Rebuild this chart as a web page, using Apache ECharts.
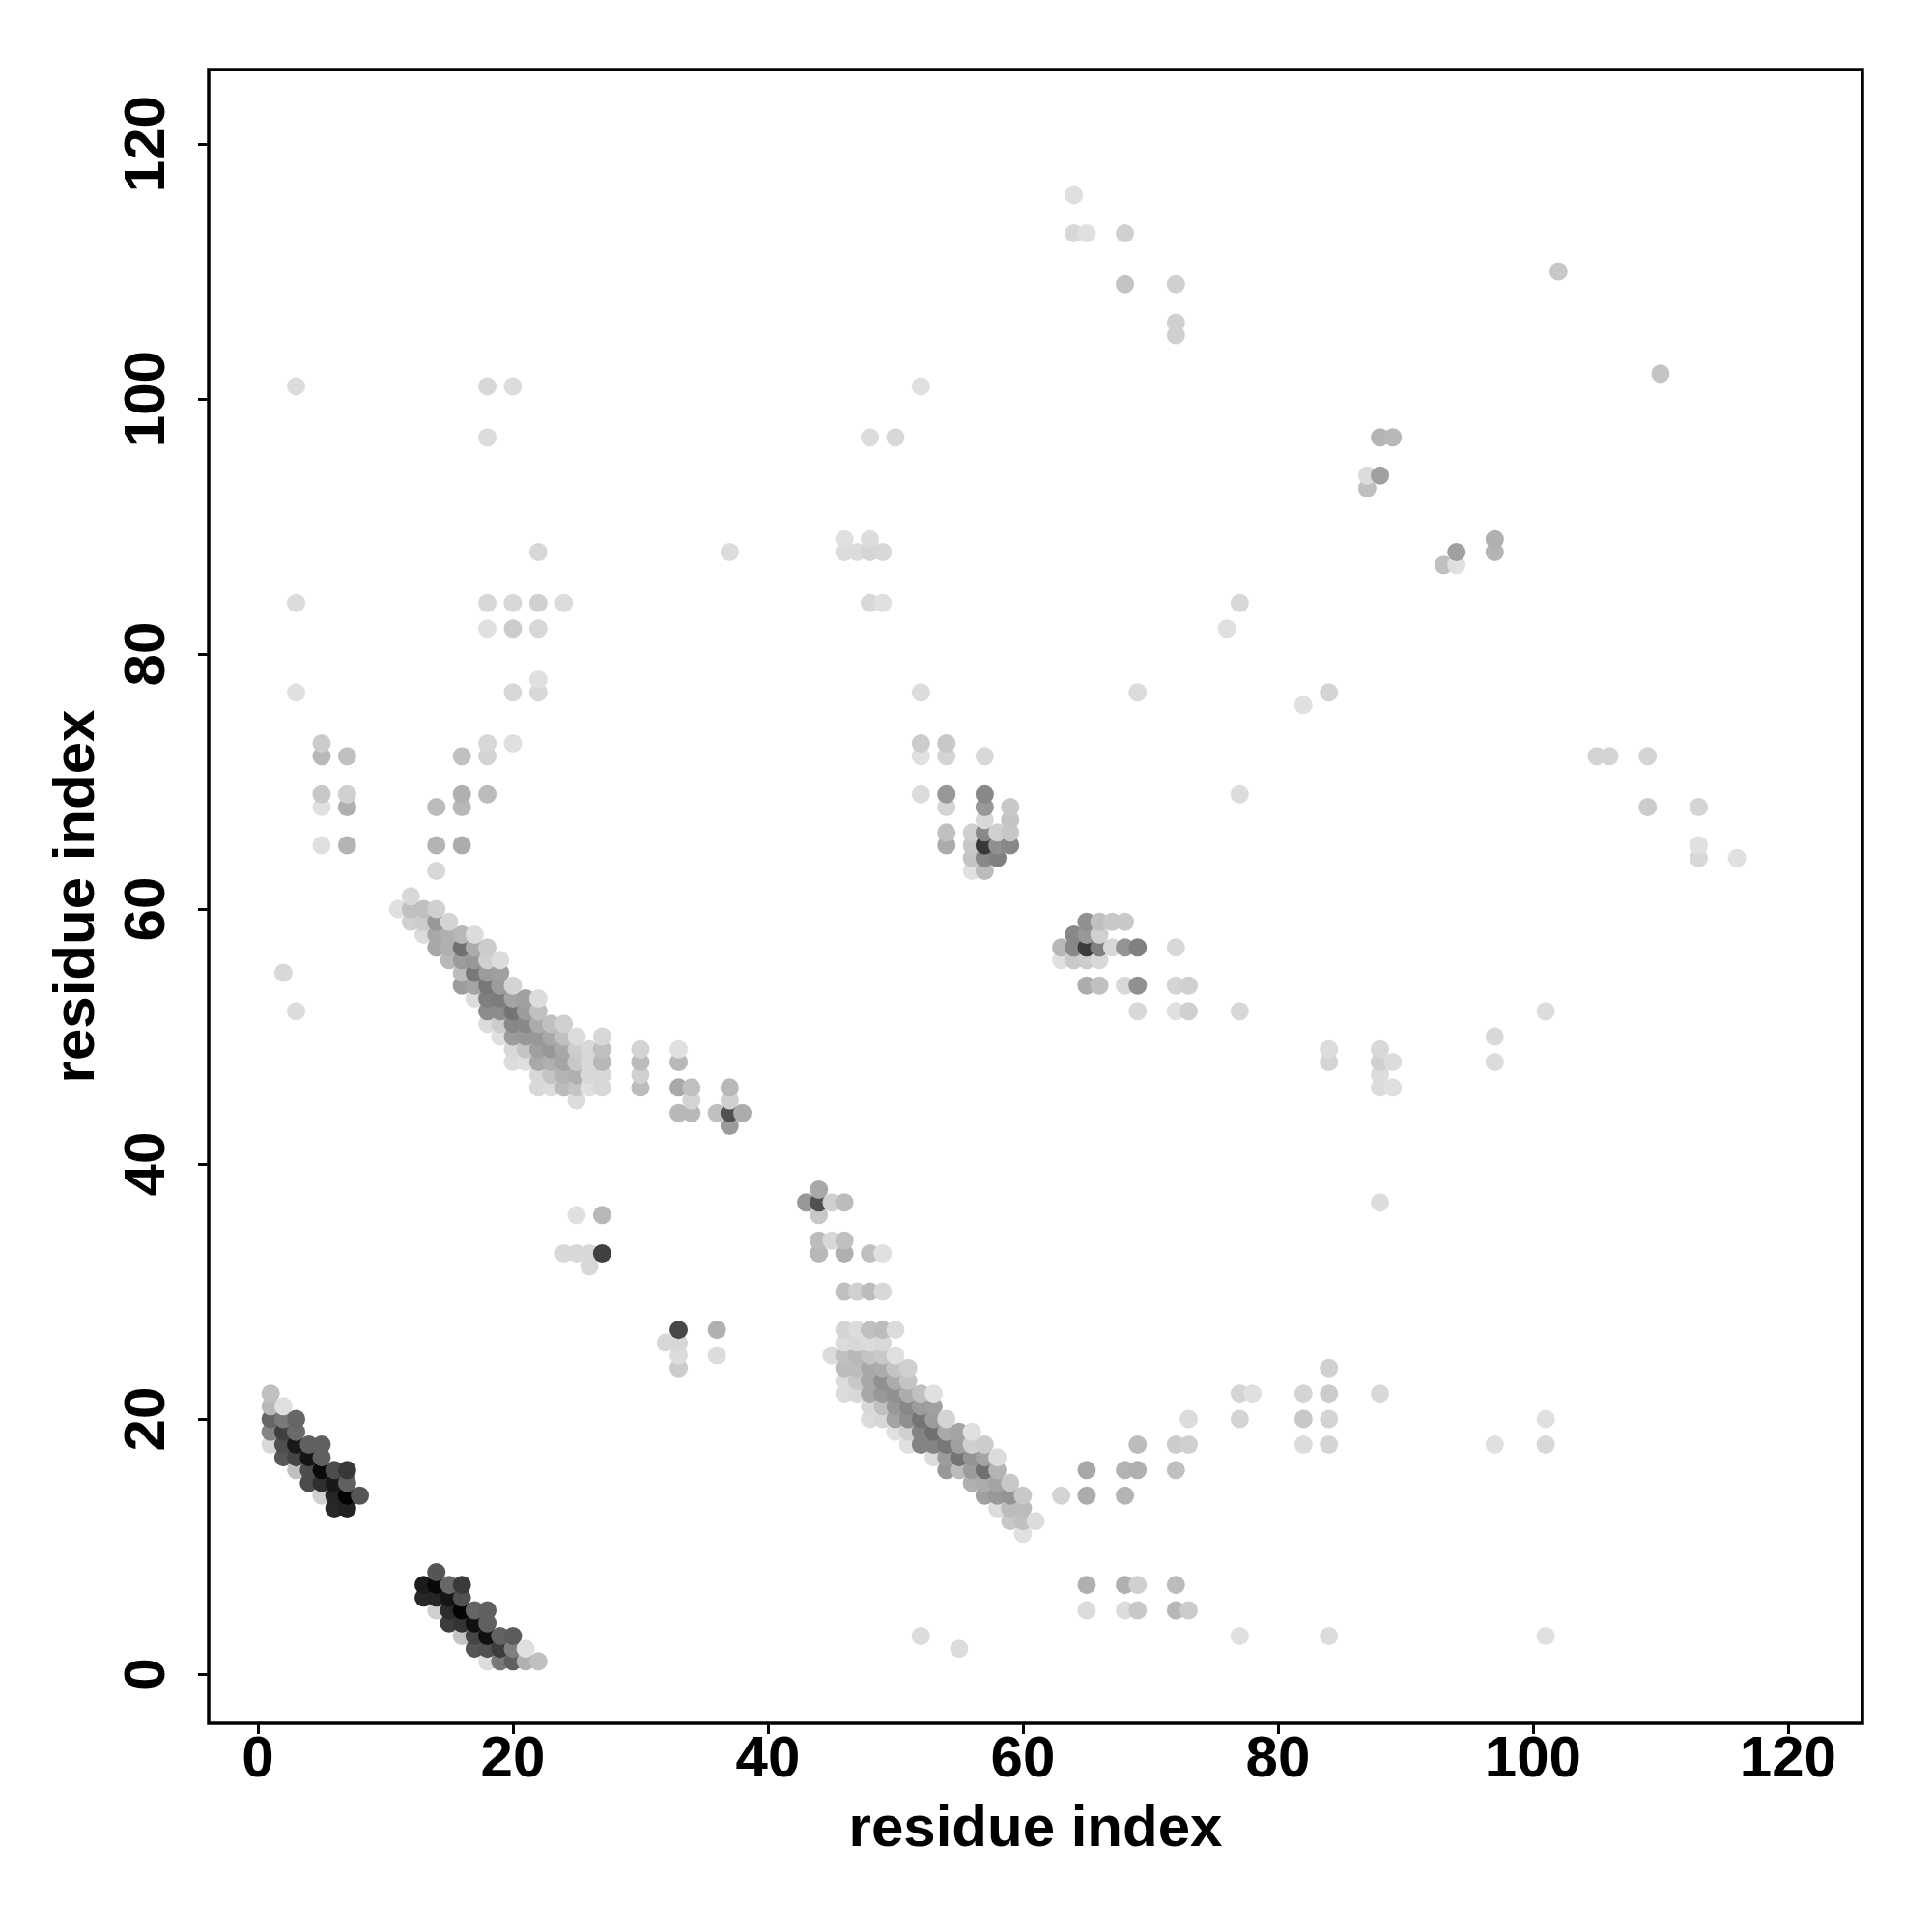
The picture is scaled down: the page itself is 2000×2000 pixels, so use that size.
<!DOCTYPE html>
<html>
<head>
<meta charset="utf-8">
<style>html,body{margin:0;padding:0;background:#fff}#c{width:2000px;height:2000px}</style>
<script src="https://cdn.jsdelivr.net/npm/echarts@6/dist/echarts.min.js"></script>
</head>
<body>
<div id="c"></div>
<script>
// Each row: [residue i, residue j, contact level 0-255]
const tickValues = [0, 20, 40, 60, 80, 100, 120];
const axisTitle = "residue index";
const axisMin = -3.86, axisMax = 125.84;

const helixA = [
[1,22,63],[1,21,71],[1,20,153],[1,19,122],[1,18,39],
[2,21,31],[2,20,133],[2,19,191],[2,18,176],[2,17,167],
[3,20,153],[3,19,149],[3,18,231],[3,17,186],[3,16,63],
[4,18,159],[4,17,234],[4,16,178],[4,15,179],
[5,18,159],[5,17,159],[5,16,245],[5,15,207],[5,14,47],
[6,16,178],[6,15,231],[6,14,218],[6,13,215],
[7,16,199],[7,15,159],[7,14,253],[7,13,221],
[8,14,170]];
const helixB = [
[13,7,227],[13,6,215],
[14,8,170],[14,7,247],[14,6,218],[14,5,47],
[15,7,151],[15,6,234],[15,5,211],[15,4,195],
[16,7,197],[16,6,175],[16,5,250],[16,4,204],[16,3,59],
[17,5,154],[17,4,239],[17,3,186],[17,2,170],
[18,5,159],[18,4,159],[18,3,239],[18,2,175],[18,1,35],
[19,3,157],[19,2,195],[19,1,135],
[20,3,163],[20,2,127],[20,1,159],
[21,2,31],[21,1,79],
[22,1,63]];
const bandUpper = [
[11,60,31],
[12,61,39],[12,60,63],[12,59,47],
[13,60,63],[13,59,51],[13,58,35],
[14,60,47],[14,59,103],[14,58,87],[14,57,87],
[15,59,43],[15,58,79],[15,57,79],[15,56,71],
[16,58,71],[16,57,143],[16,56,99],[16,55,67],[16,54,99],
[17,58,35],[17,57,83],[17,56,103],[17,55,135],[17,54,91],[17,53,35],
[18,57,51],[18,56,47],[18,55,99],[18,54,135],[18,53,127],[18,52,115],[18,51,35],
[19,56,35],[19,55,95],[19,54,99],[19,53,131],[19,52,115],[19,51,51],[19,50,31],
[20,54,43],[20,53,91],[20,52,139],[20,51,119],[20,50,99],[20,49,39],[20,48,35],
[21,53,95],[21,52,99],[21,51,119],[21,50,103],[21,49,59],[21,48,31],
[22,53,35],[22,52,63],[22,51,83],[22,50,103],[22,49,95],[22,48,87],[22,47,39],[22,46,39],
[23,51,63],[23,50,87],[23,49,103],[23,48,79],[23,47,59],[23,46,35],
[24,51,47],[24,50,63],[24,49,87],[24,48,91],[24,47,75],[24,46,67],
[25,50,35],[25,49,51],[25,48,55],[25,47,79],[25,46,59],[25,45,35],
[26,49,39],[26,48,39],[26,47,39],[26,46,31],
[27,50,39],[27,49,63],[27,48,71],[27,47,39],[27,46,39],
[30,49,43],[30,48,67],[30,47,47],[30,46,67],
[33,49,31],[33,48,71],[33,46,87],[33,44,71],
[34,46,63],[34,45,43],[34,44,71],
[36,44,63],
[37,46,71],[37,45,47],[37,44,175],[37,43,99],
[38,44,83]];
const bandLower = [
[43,37,103],
[44,38,87],[44,37,175],[44,36,55],[44,34,67],[44,33,71],
[45,37,47],[45,34,39],[45,25,35],
[46,37,67],[46,34,63],[46,33,79],[46,30,63],[46,27,43],[46,26,35],[46,25,63],[46,24,67],[46,23,35],[46,22,35],
[47,30,47],[47,27,35],[47,26,39],[47,25,71],[47,24,67],[47,23,55],[47,22,39],
[48,33,63],[48,30,67],[48,27,63],[48,26,35],[48,25,59],[48,24,87],[48,23,87],[48,22,87],[48,21,39],[48,20,35],
[49,33,31],[49,30,39],[49,27,67],[49,26,39],[49,25,55],[49,24,83],[49,23,111],[49,22,103],[49,21,63],[49,20,39],
[50,27,35],[50,25,31],[50,24,59],[50,23,83],[50,22,111],[50,21,103],[50,20,91],[50,19,31],
[51,24,47],[51,23,59],[51,22,83],[51,21,119],[51,20,111],[51,19,47],[51,18,31],
[52,22,63],[52,21,99],[52,20,139],[52,19,123],[52,18,123],
[53,22,31],[53,21,95],[53,20,99],[53,19,143],[53,18,123],[53,17,35],
[54,20,43],[54,19,87],[54,18,135],[54,17,99],[54,16,103],
[55,19,91],[55,18,95],[55,17,139],[55,16,67],
[56,19,31],[56,18,47],[56,17,107],[56,16,99],[56,15,79],
[57,18,51],[57,17,91],[57,16,143],[57,15,83],[57,14,95],
[58,17,35],[58,16,75],[58,15,91],[58,14,103],[58,13,35],
[59,15,55],[59,14,107],[59,13,67],[59,12,55],
[60,14,55],[60,13,67],[60,12,63],[60,11,31],
[61,12,35]];
const knotUpper = [
[52,73,51],[52,72,31],[52,69,35],
[54,73,55],[54,72,43],[54,69,103],[54,68,43],[54,66,63],[54,65,83],
[56,66,47],[56,65,55],[56,64,59],[56,63,31],
[57,72,39],[57,69,119],[57,68,103],[57,67,39],[57,66,119],[57,65,199],[57,64,119],[57,63,67],
[58,66,47],[58,65,111],[58,64,127],
[59,68,55],[59,67,59],[59,66,55],[59,65,119]];
const knotLower = [
[63,57,71],[63,56,31],
[64,58,119],[64,57,119],[64,56,55],
[65,59,111],[65,58,103],[65,57,195],[65,56,51],[65,54,83],
[66,59,63],[66,58,47],[66,57,127],[66,56,39],[66,54,63],
[67,59,55],[67,57,39],
[68,59,55],[68,57,107],[68,54,39],
[69,57,127],[69,54,111],[69,52,39],
[72,57,39],[72,54,43],[72,52,31],
[73,54,47],[73,52,47],
[77,52,39]];
const leftScatter = [
[2,55,39],[3,52,35],[3,101,35],[3,84,35],[3,77,31],
[5,73,51],[5,72,71],[5,69,55],[5,68,31],[5,65,31],
[7,72,63],[7,69,47],[7,68,79],[7,65,75],
[14,68,67],[14,65,75],[14,63,39],
[16,72,63],[16,69,79],[16,68,71],[16,65,83],
[18,101,39],[18,97,35],[18,84,39],[18,82,31],[18,73,39],[18,72,43],[18,69,67],
[20,101,35],[20,84,39],[20,82,51],[20,77,39],[20,73,31],
[22,88,39],[22,84,47],[22,82,39],[22,78,31],[22,77,39],
[24,84,35],
[37,88,35]];
const midScatter = [
[24,33,39],[25,36,31],[25,33,39],[26,33,39],[26,32,39],[27,36,71],[27,33,191],
[32,26,39],[33,27,183],[33,26,39],[33,25,35],[33,24,51],[36,27,79],[36,25,35],
[46,89,31],[46,88,35],[47,88,35],[48,97,35],[48,89,35],[48,88,43],[48,84,39],
[49,88,39],[49,84,31],[50,97,39],[52,101,31],[52,77,35],
[64,116,31],[64,113,39],[65,113,31],[68,113,47],[68,109,59],
[69,77,35],[72,109,47],[72,106,47],[72,105,47],
[76,82,31],[77,84,39],[77,69,35]];
const rightScatter = [
[82,76,31],[84,77,43],[84,49,35],[84,48,43],
[87,94,35],[87,93,63],[88,97,75],[88,94,95],[88,49,39],[88,48,47],[88,47,35],[88,46,35],[88,37,35],
[89,97,71],[89,48,35],[89,46,31],
[93,87,63],[94,88,95],[94,87,31],[97,89,79],[97,88,75],[97,50,39],[97,48,35],
[101,52,35],[102,110,55],[105,72,43],[106,72,43],[109,72,43],[109,68,51],
[110,102,59],[113,68,43],[113,65,31],[113,64,39],[116,64,31]];
const lowerScatter = [
[52,3,35],[55,2,35],
[63,14,43],[65,16,87],[65,14,83],[65,7,79],[65,5,35],
[68,16,75],[68,14,75],[68,7,79],[68,5,35],
[69,18,67],[69,16,79],[69,7,47],[69,5,55],
[72,18,51],[72,16,63],[72,7,67],[72,5,71],
[73,20,35],[73,18,47],[73,5,51],
[77,22,43],[77,20,43],[77,3,31],[78,22,31],
[82,22,43],[82,20,55],[82,18,35],
[84,24,47],[84,22,51],[84,20,43],[84,18,43],[84,3,35],
[88,22,39],[97,18,31],
[101,20,31],[101,18,39],[101,3,31]];

const contacts = [].concat(helixA, helixB, bandUpper, bandLower, knotUpper, knotLower,
  leftScatter, midScatter, rightScatter, lowerScatter)
  .sort((a, b) => a[0] - b[0] || a[1] - b[1]);

const chart = echarts.init(document.getElementById('c'), null, {renderer: 'canvas'});
const font = '"Liberation Sans", Arial, sans-serif';
const axisBase = {
  type: 'value', min: axisMin, max: axisMax, splitLine: {show: false},
  axisLine: {show: false, onZero: false},
  axisTick: {show: true, customValues: tickValues, length: 11, inside: false, lineStyle: {color: '#000', width: 3}},
  name: axisTitle, nameLocation: 'middle',
  nameTextStyle: {fontFamily: font, fontWeight: 'bold', fontSize: 60, color: '#000'}
};
const labelBase = {customValues: tickValues, fontFamily: font, fontWeight: 'bold', fontSize: 60, color: '#000', showMinLabel: true, showMaxLabel: true};
chart.setOption({
  animation: false,
  backgroundColor: '#fff',
  grid: {left: 216, right: 72, top: 72, bottom: 216, show: true, borderColor: '#000', borderWidth: 3.5, backgroundColor: 'transparent', containLabel: false},
  xAxis: Object.assign({}, axisBase, {position: 'bottom', nameGap: 80, axisLabel: Object.assign({}, labelBase, {margin: 8})}),
  yAxis: Object.assign({}, axisBase, {position: 'left', nameGap: 106, axisLabel: Object.assign({}, labelBase, {margin: 33, rotate: 90})}),
  series: [{
    type: 'scatter', symbol: 'circle', symbolSize: 19, silent: true, clip: false,
    data: contacts, large: false, progressive: 0,
    itemStyle: {opacity: 1, color: p => { const g = 255 - p.value[2]; return `rgb(${g},${g},${g})`; }}
  }]
});
</script>
</body>
</html>
